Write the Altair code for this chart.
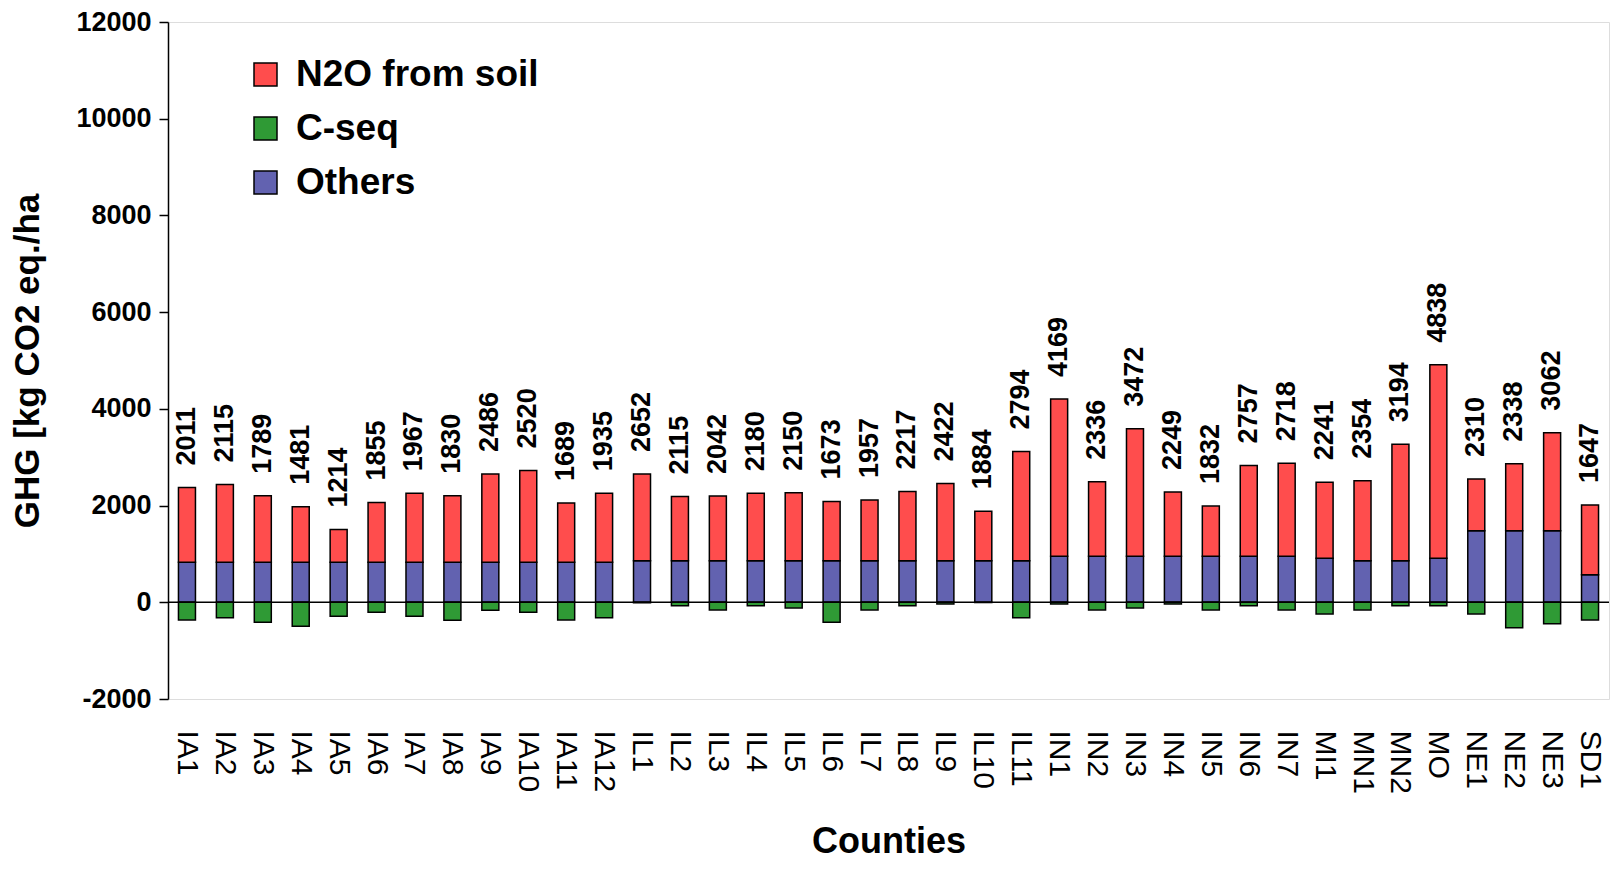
import altair as alt
import pandas as pd

counties = ["IA1", "IA2", "IA3", "IA4", "IA5", "IA6", "IA7", "IA8", "IA9", "IA10",
            "IA11", "IA12", "IL1", "IL2", "IL3", "IL4", "IL5", "IL6", "IL7", "IL8",
            "IL9", "IL10", "IL11", "IN1", "IN2", "IN3", "IN4", "IN5", "IN6", "IN7",
            "MI1", "MN1", "MN2", "MO", "NE1", "NE2", "NE3", "SD1"]

others = [830, 830, 830, 830, 830, 830, 830, 830, 830, 830,
          830, 830, 860, 860, 860, 860, 860, 860, 860, 860,
          860, 860, 860, 950, 950, 950, 950, 950, 950, 950,
          910, 860, 860, 910, 1480, 1480, 1480, 570]

n2o = [1545, 1607, 1372, 1147, 673, 1232, 1426, 1372, 1821, 1897,
       1223, 1427, 1792, 1329, 1339, 1394, 1406, 1226, 1254, 1431,
       1595, 1024, 2256, 3252, 1543, 2638, 1332, 1039, 1881, 1925,
       1571, 1651, 2408, 4002, 1070, 1387, 2028, 1441]

c_seq = [-364, -322, -413, -496, -289, -207, -289, -372, -165, -207,
         -364, -322, -10, -74, -157, -74, -116, -413, -157, -74,
         -33, -5, -322, -33, -157, -116, -33, -157, -74, -157,
         -240, -157, -74, -74, -240, -529, -446, -364]

net_labels = [2011, 2115, 1789, 1481, 1214, 1855, 1967, 1830, 2486, 2520,
              1689, 1935, 2652, 2115, 2042, 2180, 2150, 1673, 1957, 2217,
              2422, 1884, 2794, 4169, 2336, 3472, 2249, 1832, 2757, 2718,
              2241, 2354, 3194, 4838, 2310, 2338, 3062, 1647]

series = ["N2O from soil", "C-seq", "Others"]
colors = ["#FF4D4D", "#2F9A35", "#6262B0"]

rows = []
for i, c in enumerate(counties):
    rows.append({"county": c, "source": "Others", "value": others[i], "ord": 0})
    rows.append({"county": c, "source": "N2O from soil", "value": n2o[i], "ord": 1})
    rows.append({"county": c, "source": "C-seq", "value": c_seq[i], "ord": 2})
df = pd.DataFrame(rows)

lab = pd.DataFrame({
    "county": counties,
    "top": [o + n for o, n in zip(others, n2o)],
    "net": [str(v) for v in net_labels],
})

FONT = "Liberation Sans"
ytitle = "GHG [kg CO2 eq./ha"

xenc = alt.X(
    "county:N", sort=counties,
    scale=alt.Scale(paddingInner=0, paddingOuter=0),
    axis=alt.Axis(
        title="Counties", labelAngle=90, labelAlign="left", labelBaseline="middle",
        labelPadding=31, ticks=False, domain=False, labelFontSize=30,
        labelFont=FONT, labelColor="black", labelLimit=0, grid=False,
        titleFontSize=36, titleFontWeight="bold", titleFont=FONT, titleColor="black",
        titleY=153, titleBaseline="alphabetic",
    ),
)

yscale = alt.Scale(domain=[-2000, 12000], nice=False, zero=True)

bars = alt.Chart(df).mark_bar(size=17, stroke="black", strokeWidth=1.5).encode(
    x=xenc,
    y=alt.Y(
        "value:Q", stack="zero", scale=yscale, title=ytitle,
        axis=alt.Axis(
            values=list(range(-2000, 12001, 2000)), labelExpr="'' + datum.value",
            labelFontSize=27, labelFontWeight="bold", labelFont=FONT, labelColor="black",
            tickSize=9, tickColor="black", tickWidth=1.5, domainColor="black",
            domainWidth=1.5, labelPadding=8, grid=False,
            titleFontSize=35, titleFontWeight="bold", titleFont=FONT, titleColor="black",
            titleX=-130, titleBaseline="alphabetic", titleAngle=270,
        ),
    ),
    color=alt.Color(
        "source:N",
        scale=alt.Scale(domain=series, range=colors),
        legend=alt.Legend(
            title=None, orient="none", legendX=79, legendY=34,
            symbolType="square", symbolSize=529, symbolStrokeColor="black",
            symbolStrokeWidth=1.5, symbolOpacity=1, labelFontSize=37,
            labelFontWeight="bold", labelFont=FONT, labelColor="black",
            labelOffset=12, rowPadding=16, padding=0, labelLimit=0,
        ),
    ),
    order=alt.Order("ord:Q"),
)

zero = alt.Chart(pd.DataFrame({"z": [0]})).mark_rule(color="black", strokeWidth=1.5).encode(
    y=alt.Y("z:Q", scale=yscale, title=ytitle)
)

text = alt.Chart(lab).mark_text(
    angle=270, align="left", baseline="middle", dx=22, fontSize=27,
    fontWeight="bold", font=FONT, color="black",
).encode(
    x=alt.X("county:N", sort=counties),
    y=alt.Y("top:Q", scale=yscale, title=ytitle),
    text="net:N",
)

chart = alt.layer(bars, zero, text).properties(
    width=1441, height=677,
    autosize=alt.AutoSizeParams(type="none"),
    padding={"left": 160, "top": 14, "right": 1, "bottom": 169},
).configure_view(
    stroke="#8C8C8C", strokeWidth=2
).configure(font=FONT)

chart.save("out.html", embed_options={"renderer": "svg", "actions": False})
